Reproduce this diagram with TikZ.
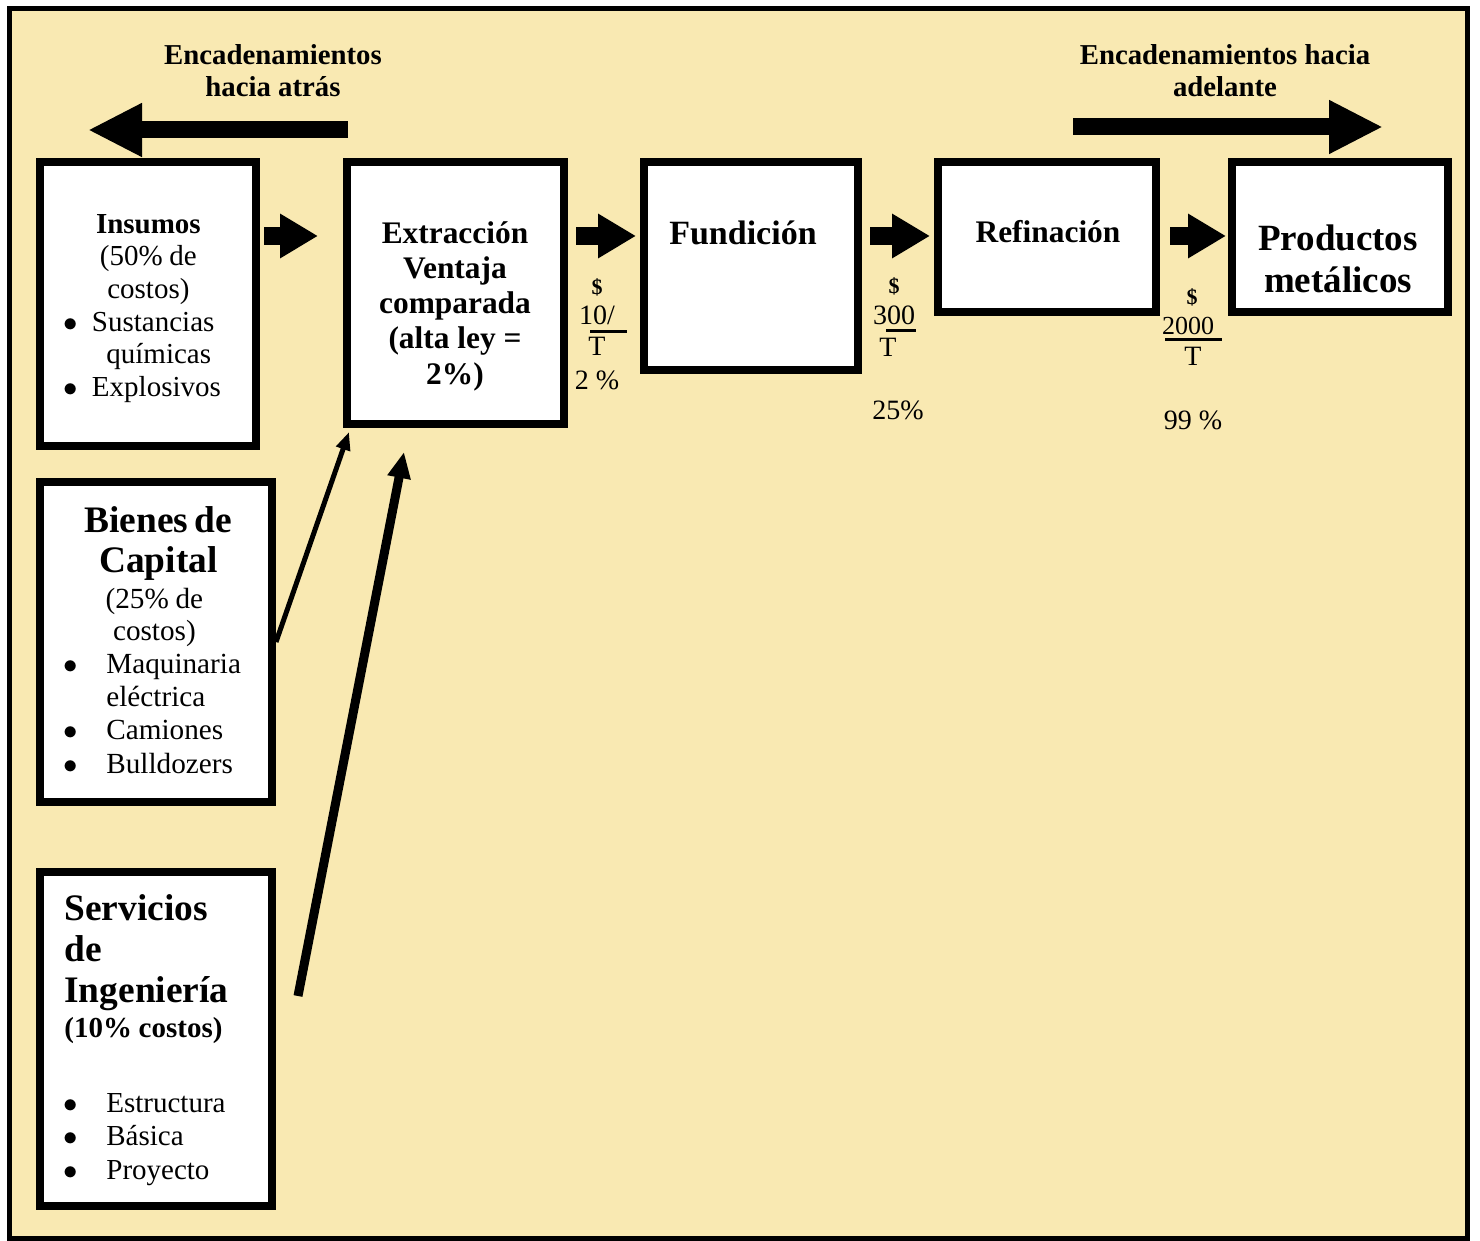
\documentclass[tikz,border=0pt]{standalone}
\usepackage{fontspec}
\setmainfont{Liberation Serif}
\usetikzlibrary{arrows.meta,calc}
\definecolor{paper}{RGB}{249,233,178}

\newcommand{\rg}{\fontsize{14.5}{16.3}\selectfont}
\newcommand{\bul}{\hspace*{2.4pt}\makebox[21.6pt][l]{$\bullet$}}
\newcommand{\bulnarrow}{\hspace*{2.4pt}\makebox[14.4pt][l]{$\bullet$}}

\begin{document}
\begin{tikzpicture}[x=0.5pt,y=-0.5pt,
  box/.style={draw=black, line width=4pt, fill=white, inner sep=0pt},
  blk/.style={line width=9pt, -{Triangle[length=19pt,width=21pt]}},
  bigarrow/.style={line width=8.5pt, -{Triangle[length=27pt,width=25pt]}},
  thinarrow/.style={line width=2.5pt, -{Triangle[length=9pt,width=7pt]}},
  thickarrow/.style={line width=4.5pt, -{Triangle[length=13pt,width=11pt]}},
  txt/.style={inner sep=0pt, align=center},
  lbl/.style={txt, font=\bfseries\fontsize{14.4}{16}\selectfont},
  num/.style={inner sep=0pt, anchor=base, font=\fontsize{14}{16}\selectfont},
  dol/.style={inner sep=0pt, anchor=base, font=\bfseries\fontsize{11}{12}\selectfont},
  fracbar/.style={line width=1.5pt}
]
% page and frame
\fill[white] (0,0) rectangle (1480,1241);
\useasboundingbox (0,0) rectangle (1480,1241);
\draw[line width=2.5pt, fill=paper] (9,9) rectangle (1467,1238);

% boxes of the chain
\node[box, minimum width=108pt, minimum height=142pt] (ins) at (148,304) {};
\node[box, minimum width=108.5pt, minimum height=131pt] (ext) at (455.5,293) {};
\node[box, minimum width=107pt, minimum height=104pt] (fun) at (751,266) {};
\node[box, minimum width=109pt, minimum height=75pt] (ref) at (1047,237) {};
\node[box, minimum width=108pt, minimum height=75pt] (pro) at (1340,237) {};
\node[box, minimum width=116pt, minimum height=160pt] (bie) at (156,642) {};
\node[box, minimum width=116pt, minimum height=167pt] (ser) at (156,1039) {};

% block arrows between stages
\draw[blk] ($(ins.north east)+(4,78)$) -- ($(ext.north west)+(-25,78)$);
\draw[blk] ($(ext.north east)+(8,78)$) -- ($(fun.north west)+(-4,78)$);
\draw[blk] ($(fun.north east)+(8,78)$) -- ($(ref.north west)+(-4,78)$);
\draw[blk] ($(ref.north east)+(10,78)$) -- ($(pro.north west)+(-2,78)$);

% linkage arrows
\coordinate (bs) at (348,130);
\coordinate (be) at (88,130);
\draw[bigarrow] (bs) -- (be);
\coordinate (fs) at (1073,127);
\coordinate (fe) at (1383,127);
\draw[bigarrow] (fs) -- (fe);

% inputs into extraction
\draw[thinarrow] (bie.east) -- ($(ext.south west)+(6,4)$);
\coordinate (sv) at (298,996);
\draw[thickarrow] (sv) -- ($(ext.south west)+(61,24)$);

% headings
\node[lbl, anchor=north] (backT) at (273,44) {Encadenamientos\\hacia atrás};
\node[lbl, anchor=north] (fwdT) at (1225,44) {Encadenamientos hacia\\adelante};

% box texts
\node[inner sep=0pt, anchor=north west, text width=90pt, align=left] (insT) at (58,214) {\rg
\makebox[90pt][c]{\bfseries Insumos}\\
\makebox[90pt][c]{(50\% de}\\
\makebox[90pt][c]{costos)}\\
\bulnarrow Sustancias\\
\hspace*{24pt}químicas\\
\bulnarrow Explosivos\par};

\node[txt, anchor=north, font=\bfseries\fontsize{15.7}{17.6}\selectfont] (extT) at (455,221)
  {Extracción\\Ventaja\\comparada\\(alta ley =\\2\%)};
\node[inner sep=0pt, anchor=base, font=\bfseries\fontsize{17}{19}\selectfont] (funT) at (743,245) {Fundición};
\node[inner sep=0pt, anchor=base, font=\bfseries\fontsize{15.7}{18}\selectfont] (refT) at (1048,243) {Refinación};
\node[txt, anchor=north, font=\bfseries\fontsize{18.5}{21}\selectfont] (proT) at (1338,224) {Productos\\metálicos};

\node[inner sep=0pt, anchor=north west, text width=100pt, align=left] (bieT) at (58,506) {%
\fontsize{18.7}{20}\selectfont\makebox[100pt][c]{\bfseries Bienes de}\\
\makebox[100pt][c]{\bfseries Capital}\\
\fontsize{14.6}{18}\selectfont\makebox[96pt][c]{(25\% de}\\
\fontsize{14.6}{16}\selectfont\makebox[96pt][c]{costos)}\\
\fontsize{14.6}{16.6}\selectfont\bul Maquinaria\\
\hspace*{24pt}eléctrica\\
\bul Camiones\\
\bul Bulldozers\par};

\node[inner sep=0pt, anchor=north west, text width=110pt, align=left] (serT) at (58,894) {%
\fontsize{18.7}{20.5}\selectfont\bfseries\hspace*{3pt}Servicios\\
\hspace*{3pt}de\\
\hspace*{3pt}Ingeniería\\
\fontsize{14.5}{17.5}\selectfont\hspace*{3pt}(10\% costos)\\[20.8pt]
\mdseries\fontsize{14.5}{16.7}\selectfont\bul Estructura\\
\bul Básica\\
\bul Proyecto\par};

% prices and copper content along the chain
\node[dol] (d1) at (597,295) {\$};
\node[num] (n1) at (597,325) {10/};
\node[num] (t1) at (597,356) {T};
\node[num] (p1) at (597,390) {2 \%};
\draw[fracbar] (590,332) -- (627,332);

\node[dol] (d2) at (894,294) {\$};
\node[num] (n2) at (894,325) {300};
\node[num] (t2) at (888,357) {T};
\node[num] (p2) at (898,420) {25\%};
\draw[fracbar] (886,331) -- (916,331);

\node[dol] (d3) at (1192,305) {\$};
\node[num, font=\fontsize{13}{15}\selectfont] (n3) at (1188,335) {2000};
\node[num] (t3) at (1193,366) {T};
\node[num] (p3) at (1193,430) {99 \%};
\draw[fracbar] (1165,340) -- (1222,340);
\end{tikzpicture}
\end{document}
